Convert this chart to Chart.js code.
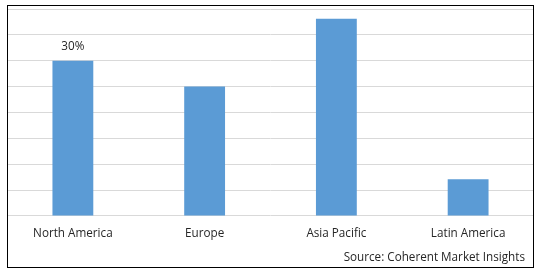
<!DOCTYPE html>
<html>
<head>
<meta charset="utf-8">
<script src="https://cdn.jsdelivr.net/npm/chart.js@4"></script>
<style>
  html, body { margin: 0; padding: 0; background: #fff; }
  #wrap { position: relative; width: 538px; height: 272px; }
</style>
</head>
<body>
<div id="wrap"><canvas id="regionChart"></canvas></div>
<script>
const regions = ['North America', 'Europe', 'Asia Pacific', 'Latin America'];
const shares = [30, 25, 38.1, 7.1];
const valueLabels = ['30%', '', '', ''];
const sourceText = 'Source: Coherent Market Insights';

const FONT = '"Open Sans", sans-serif';
const FONT_SIZE = 11.7;

// outer frame + source line + the single value label
const decorations = {
    id: 'decorations',
    afterDraw(chart) {
        const ctx = chart.ctx;
        ctx.save();
        ctx.strokeStyle = '#000';
        ctx.lineWidth = 1;
        ctx.strokeRect(7.5, 5.5, 526, 262);

        ctx.fillStyle = '#262626';
        ctx.font = FONT_SIZE + 'px ' + FONT;
        ctx.textBaseline = 'middle';
        ctx.textAlign = 'right';
        ctx.fillText(sourceText, 525, 258);

        const meta = chart.getDatasetMeta(0);
        ctx.textAlign = 'center';
        meta.data.forEach((bar, i) => {
            if (valueLabels[i]) ctx.fillText(valueLabels[i], bar.x, bar.y - 14);
        });
        ctx.restore();
    }
};

const ctx = document.getElementById('regionChart').getContext('2d');
new Chart(ctx, {
    type: 'bar',
    data: {
        labels: regions,
        datasets: [{
            data: shares,
            backgroundColor: '#5b9bd5',
            categoryPercentage: 1,
            barPercentage: 0.31
        }]
    },
    options: {
        responsive: true,
        maintainAspectRatio: false,
        animation: false,
        layout: { padding: { left: 7, right: 4, top: 9, bottom: 20 } },
        plugins: {
            legend: { display: false },
            tooltip: { enabled: false }
        },
        scales: {
            x: {
                grid: { display: false, drawTicks: false },
                border: { display: false },
                ticks: {
                    color: '#262626',
                    font: { family: FONT, size: FONT_SIZE },
                    padding: 11
                }
            },
            y: {
                min: 0,
                max: 40,
                ticks: { display: false, stepSize: 5 },
                grid: { color: '#d9d9d9', drawTicks: false },
                border: { display: false }
            }
        }
    },
    plugins: [decorations]
});
</script>
</body>
</html>
